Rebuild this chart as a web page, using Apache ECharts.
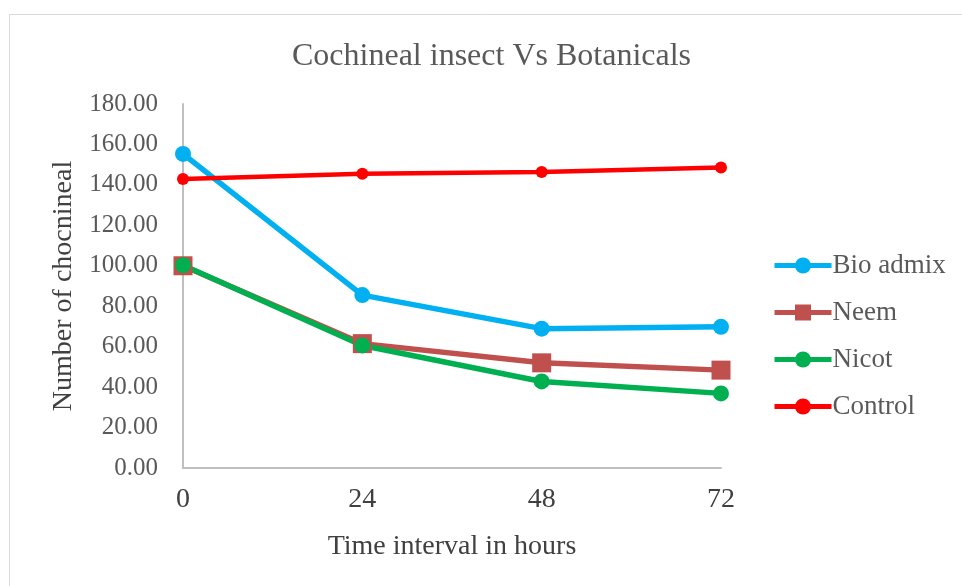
<!DOCTYPE html>
<html><head><meta charset="utf-8">
<script src="https://cdn.jsdelivr.net/npm/echarts@6/dist/echarts.min.js"></script>
<style>html,body{margin:0;padding:0;background:#fff}#c{width:962px;height:586px}</style>
</head><body><div id="c"></div>
<script>
const categories = ['0', '24', '48', '72'];
const bioAdmix = [155.3, 85.5, 68.9, 69.8];
const neem = [100.0, 61.5, 52.0, 48.4];
const nicot = [100.3, 60.6, 42.8, 36.9];
const control = [142.9, 145.5, 146.4, 148.6];
const yTicks = [0, 20, 40, 60, 80, 100, 120, 140, 160, 180];

const font = '"Liberation Serif", "Times New Roman", serif';
const chart = echarts.init(document.getElementById('c'));
function s(name, data, color, symbol, size, width) {
  return {
    name, type: 'line', data, symbol, symbolSize: size,
    lineStyle: { color, width }, itemStyle: { color },
    emphasis: { disabled: true }, animation: false
  };
}
chart.setOption({
  animation: false,
  backgroundColor: '#fff',
  graphic: [{
    type: 'rect', shape: { x: 9.5, y: 14.5, width: 1000, height: 1000 },
    style: { fill: 'none', stroke: '#d9d9d9', lineWidth: 1 }, silent: true
  }],
  title: {
    text: 'Cochineal insect Vs Botanicals', left: 287, top: 36,
    textStyle: { fontFamily: font, fontSize: 32, fontWeight: 'normal', color: '#595959' }
  },
  grid: { left: 183, right: 241, top: 104, bottom: 118, containLabel: false },
  legend: {
    orient: 'vertical', left: 767, top: 247, itemGap: 20, itemWidth: 57, itemHeight: 20,
    lineStyle: { width: 5 },
    textStyle: { fontFamily: font, fontSize: 27, color: '#595959', padding: [0, 0, 0, -4] },
    data: ['Bio admix', 'Neem', 'Nicot', 'Control']
  },
  xAxis: {
    type: 'category', data: categories, boundaryGap: false,
    name: 'Time interval in hours', nameLocation: 'middle', nameGap: 65,
    nameTextStyle: { fontFamily: font, fontSize: 28, color: '#404040' },
    axisLine: { lineStyle: { color: '#bfbfbf', width: 2 } },
    axisTick: { show: false },
    axisLabel: { fontFamily: font, fontSize: 28, color: '#404040', margin: 18 }
  },
  yAxis: {
    type: 'value', min: yTicks[0], max: yTicks[yTicks.length - 1], interval: 20,
    name: 'Number of chocnineal', nameLocation: 'middle', nameGap: 105, nameRotate: 90,
    nameTextStyle: { fontFamily: font, fontSize: 28, color: '#404040' },
    axisLine: { show: true, lineStyle: { color: '#bfbfbf', width: 2 } },
    axisTick: { show: false },
    splitLine: { show: false },
    axisLabel: { fontFamily: font, fontSize: 25, color: '#595959', margin: 25,
      formatter: v => v.toFixed(2) }
  },
  series: [
    s('Bio admix', bioAdmix, '#00b0f0', 'circle', 16, 5.5),
    s('Neem', neem, '#c0504d', 'rect', 19, 5.5),
    s('Nicot', nicot, '#00b050', 'circle', 16, 5.5),
    s('Control', control, '#ff0000', 'circle', 12, 4.5)
  ]
});
</script></body></html>
